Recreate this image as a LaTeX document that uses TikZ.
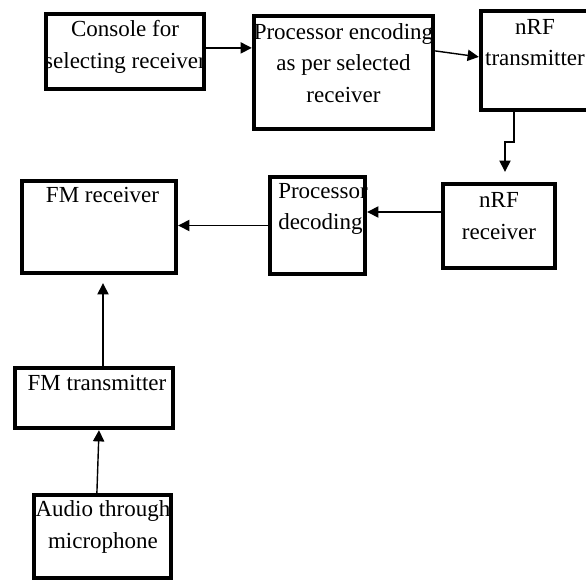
\documentclass[tikz,border=0pt]{standalone}
\usepackage{xcolor}
\usepackage{fontspec}
\setmainfont{Liberation Serif}
\usepackage{tikz}
\usetikzlibrary{arrows.meta}

\begin{document}
\begin{tikzpicture}[blockbox/.style={draw, rectangle, line width=0.11cm, fill=white, inner sep=0pt}, blocktext/.style={align=center, inner sep=0pt, font=\fontsize{0.575cm}{0.79cm}\selectfont}, conn/.style={line width=1pt, -{Triangle[length=0.28cm,width=0.28cm]}}]%
\useasboundingbox (0,0) rectangle (14.65,-14.575);%
\node[blockbox, minimum width=3.95cm, minimum height=1.875cm] (console) at (3.125, -1.2875) {};%
\node[blockbox, minimum width=4.475cm, minimum height=2.825cm] (encoder) at (8.5875, -1.8125) {};%
\node[blockbox, minimum width=2.825cm, minimum height=2.475cm] (nrftx) at (13.4375, -1.5125) {};%
\node[blockbox, minimum width=2.8cm, minimum height=2.1cm] (nrfrx) at (12.475, -5.65) {};%
\node[blockbox, minimum width=2.375cm, minimum height=2.425cm] (decoder) at (7.9375, -5.6375) {};%
\node[blockbox, minimum width=3.85cm, minimum height=2.3cm] (fmrx) at (2.475, -5.675) {};%
\node[blockbox, minimum width=3.95cm, minimum height=1.5cm] (fmtx) at (2.35, -9.95) {};%
\node[blockbox, minimum width=3.425cm, minimum height=2.075cm] (audio) at (2.5625, -13.4125) {};%
\node[blocktext] (consoletext) at (3.125, -1.175) {Console for\\selecting receiver};%
\node[blocktext] (encodertext) at (8.5875, -1.575) {Processor encoding\\as per selected\\receiver};%
\node[blocktext] (nrftxtext) at (13.375, -1.0625) {nRF\\transmitter};%
\node[blocktext] (nrfrxtext) at (12.475, -5.4) {nRF\\receiver};%
\node[blocktext, align=left, anchor=west] (decodertext) at (6.95, -5.225) {Processor\\decoding};%
\node[blocktext] (fmrxtext) at (2.5625, -4.875) {FM receiver};%
\node[blocktext] (fmtxtext) at (2.425, -9.575) {FM transmitter};%
\node[blocktext] (audiotext) at (2.575, -13.175) {Audio through\\microphone};%
\draw[conn] ([yshift=0.09cm]console.east) -- ([yshift=0.09cm]console.east -| encoder.west);%
\draw[conn] ([yshift=0.54cm]encoder.east) -- ([yshift=0.09cm]nrftx.west);%
\draw[conn, shorten >=0.25cm] ([xshift=-0.59cm]nrftx.south) -- ++(0,-0.75) -| ([xshift=0.15cm]nrfrx.north);%
\draw[conn] ([yshift=0.35cm]nrfrx.west) -- ([yshift=0.35cm]nrfrx.west -| decoder.east);%
\draw[conn] (decoder.west) -- (decoder.west -| fmrx.east);%
\draw[conn, shorten >=0.2cm] ([xshift=0.225cm]fmtx.north) -- ([xshift=0.225cm]fmtx.north |- fmrx.south);%
\draw[conn] ([xshift=-0.14cm]audio.north) -- ([xshift=0.125cm]fmtx.south);%
\end{tikzpicture}
\end{document}
